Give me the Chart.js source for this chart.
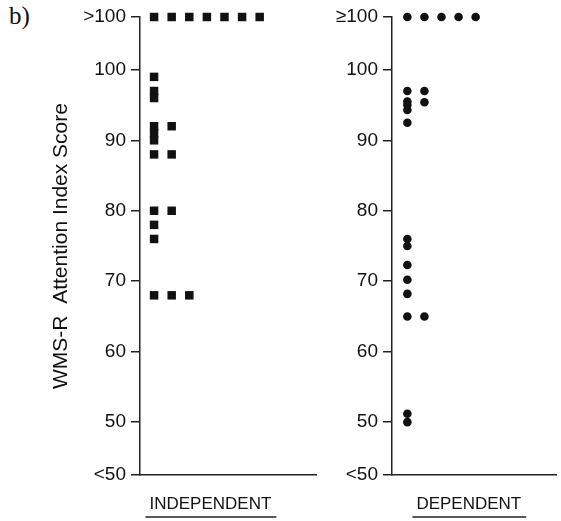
<!DOCTYPE html>
<html>
<head>
<meta charset="utf-8">
<script src="https://cdn.jsdelivr.net/npm/chart.js@4"></script>
<style>
  body { margin: 0; background: #fff; }
  #wrap { position: relative; width: 561px; height: 521px; }
  canvas { position: absolute; top: 0; }
  #panel { position: absolute; left: 9px; top: 2px; font: 25px "Liberation Serif", "DejaVu Serif", serif; color: #111; }
</style>
</head>
<body>
<div id="wrap">
  <div id="panel">b)</div>
  <canvas id="leftChart" width="322" height="521" style="left:0"></canvas>
  <canvas id="rightChart" width="231" height="521" style="left:330px"></canvas>
</div>
<script>
// scores per column of marks; ABOVE is the ">100" row, BELOW the "<50" row
const ABOVE = 107.5;
const BELOW = 42.5;
const yTicks = [BELOW, 50, 60, 70, 80, 90, 100, ABOVE];

const independentCols = [
    [ABOVE, 99, 97, 96, 92, 91, 90, 88, 80, 78, 76, 68],
    [ABOVE, 92, 88, 80, 68],
    [ABOVE, 68],
    [ABOVE],
    [ABOVE],
    [ABOVE],
    [ABOVE]
];
const dependentCols = [
    [ABOVE, 97, 95.5, 95, 94.3, 92.5, 76, 75, 72.3, 70.2, 68.2, 65, 51.2, 50],
    [ABOVE, 97, 95.4, 65],
    [ABOVE],
    [ABOVE],
    [ABOVE]
];

const FONT = "'Liberation Sans', Arial, sans-serif";

function toPoints(cols) {
    const pts = [];
    cols.forEach((vals, i) => vals.forEach(v => pts.push({ x: i + 1, y: v })));
    return pts;
}

// line under the group name
const underline = {
    id: "underline",
    afterDraw(chart) {
        const xs = chart.scales.x;
        const ctx = chart.ctx;
        const text = chart.options.plugins.underline.text;
        ctx.save();
        ctx.font = "17px " + FONT;
        ctx.strokeStyle = "#222";
        ctx.lineWidth = 1.5;
        xs.ticks.forEach(t => {
            const px = xs.getPixelForValue(t.value);
            const w = ctx.measureText(text).width;
            ctx.beginPath();
            ctx.moveTo(px - w / 2 - 4, xs.bottom - 4);
            ctx.lineTo(px + w / 2 + 5, xs.bottom - 4);
            ctx.stroke();
        });
        ctx.restore();
    }
};

function makeChart(id, cols, opts) {
    const ctx = document.getElementById(id).getContext("2d");
    return new Chart(ctx, {
        type: "scatter",
        data: {
            datasets: [{
                data: toPoints(cols),
                pointStyle: opts.pointStyle,
                pointRadius: opts.radius,
                pointHoverRadius: opts.radius,
                backgroundColor: "#111",
                borderColor: "#111",
                borderWidth: 0,
                clip: false
            }]
        },
        options: {
            responsive: false,
            devicePixelRatio: 1,
            animation: false,
            layout: { padding: { top: 17, right: opts.padRight, left: 0, bottom: 0 } },
            plugins: {
                legend: { display: false },
                tooltip: { enabled: false },
                underline: { text: opts.label }
            },
            scales: {
                x: {
                    type: "linear",
                    min: opts.xMin,
                    max: opts.xMax,
                    afterFit: s => { s.height = 46; },
                    afterBuildTicks: s => { s.ticks = [{ value: opts.labelAt }]; },
                    grid: { display: false, drawTicks: false },
                    border: { display: true, color: "#222", width: 1.5 },
                    ticks: {
                        autoSkip: false,
                        maxRotation: 0,
                        padding: 19,
                        color: "#111",
                        font: { family: FONT, size: 17 },
                        callback: () => opts.label
                    }
                },
                y: {
                    min: BELOW,
                    max: ABOVE,
                    afterFit: s => { s.width = opts.yWidth; },
                    afterBuildTicks: s => { s.ticks = yTicks.map(v => ({ value: v })); },
                    grid: { drawOnChartArea: false, drawTicks: true, tickLength: 9, color: "#222", lineWidth: 1.5 },
                    border: { display: true, color: "#222", width: 1.5 },
                    ticks: {
                        autoSkip: false,
                        padding: 5,
                        color: "#111",
                        font: { family: FONT, size: 19 },
                        callback: v => v === ABOVE ? opts.topLabel : v === BELOW ? "<50" : String(v)
                    },
                    title: {
                        display: opts.yTitle !== "",
                        text: opts.yTitle,
                        color: "#111",
                        padding: { top: 49, bottom: 0 },
                        font: { family: FONT, size: 21 }
                    }
                }
            }
        },
        plugins: [underline]
    });
}

makeChart("leftChart", independentCols, {
    pointStyle: "rect", radius: 6, padRight: 2,
    xMin: 0.2, xMax: 10.2, labelAt: 4.2, yWidth: 140,
    label: "INDEPENDENT", topLabel: ">100",
    yTitle: "WMS-R  Attention Index Score"
});
makeChart("rightChart", dependentCols, {
    pointStyle: "circle", radius: 4.3, padRight: 0,
    xMin: 0.1, xMax: 9.75, labelAt: 4.6, yWidth: 62,
    label: "DEPENDENT", topLabel: "≥100",
    yTitle: ""
});
</script>
</body>
</html>
